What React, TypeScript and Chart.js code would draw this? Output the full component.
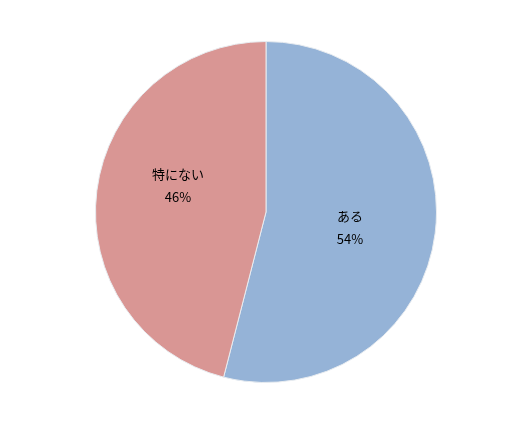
import React, { useEffect, useRef } from 'react';
import Chart from 'chart.js/auto';

const labels = ['ある', '特にない'];
const values = [54, 46];
const colors = ['#95b3d7', '#d99694'];

// small nudges so labels sit where the original placed them
const labelNudge = [
  { dx: -4, dy: 4 },
  { dx: 0, dy: -16 },
];

const sliceLabels = {
  id: 'sliceLabels',
  afterDatasetsDraw(chart: any) {
    const { ctx } = chart;
    const meta = chart.getDatasetMeta(0);
    ctx.save();
    ctx.fillStyle = '#000';
    ctx.font = '13px "Noto Sans CJK JP", sans-serif';
    ctx.textAlign = 'center';
    ctx.textBaseline = 'middle';
    meta.data.forEach((arc: any, i: number) => {
      const p = arc.getProps(['x', 'y', 'startAngle', 'endAngle', 'outerRadius'], true);
      const mid = (p.startAngle + p.endAngle) / 2;
      const r = p.outerRadius * 0.52;
      const x = p.x + Math.cos(mid) * r + labelNudge[i].dx;
      const y = p.y + Math.sin(mid) * r + labelNudge[i].dy;
      ctx.fillText(labels[i], x, y - 11);
      ctx.fillText(values[i] + '%', x, y + 12);
    });
    ctx.restore();
  },
};

const App = () => {
  const chartRef = useRef<HTMLCanvasElement>(null);
  const chartInstanceRef = useRef<Chart>();

  useEffect(() => {
    document.body.style.margin = '0';
    if (chartRef.current) {
      const ctx = chartRef.current.getContext('2d');
      if (ctx) {
        if (chartInstanceRef.current) {
          chartInstanceRef.current.destroy();
        }
        chartInstanceRef.current = new Chart(ctx, {
          type: 'pie',
          data: {
            labels: labels,
            datasets: [{
              data: values,
              backgroundColor: colors,
              borderColor: '#e8ecf0',
              borderWidth: 1,
            }]
          },
          options: {
            animation: false,
            responsive: false,
            layout: {
              padding: { left: 95, right: 94, top: 41, bottom: 41 }
            },
            plugins: {
              legend: { display: false },
              tooltip: { enabled: false },
            }
          },
          plugins: [sliceLabels]
        });
      }
    }
    return () => {
      if (chartInstanceRef.current) {
        chartInstanceRef.current.destroy();
      }
    };
  }, []);

  return (
    <div style={{ width: 531, height: 424, background: '#fff' }}>
      <canvas ref={chartRef} width={531} height={424} />
    </div>
  );
};

export default App;
